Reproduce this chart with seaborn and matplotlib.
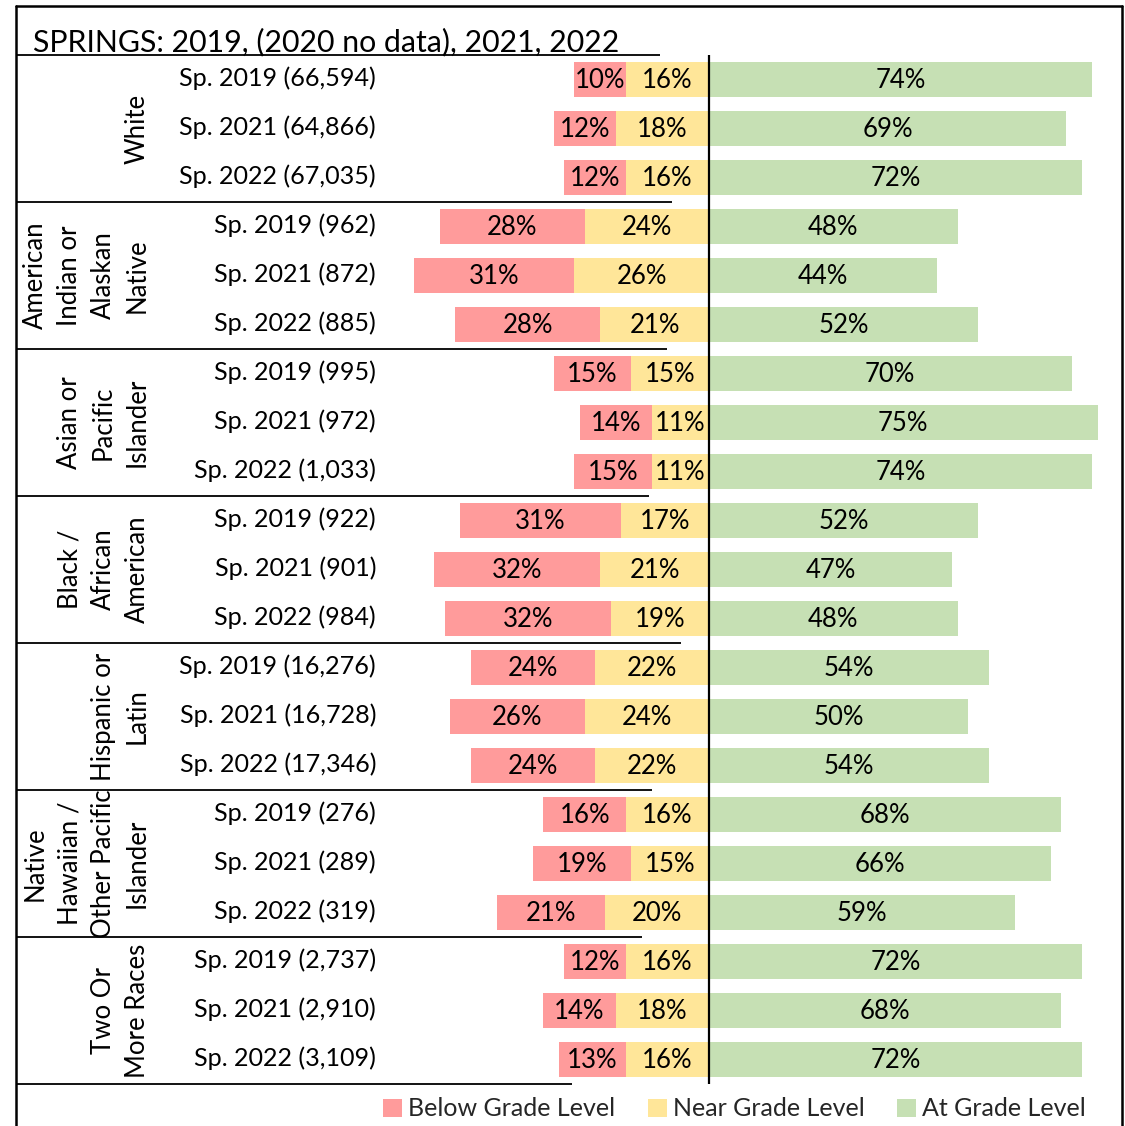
import matplotlib
matplotlib.use("Agg")
import matplotlib.pyplot as plt
from matplotlib.lines import Line2D
from matplotlib.patches import Patch
import seaborn as sns
import pandas as pd

# ---------------- data ----------------
groups = [
    "White",
    "American\nIndian or\nAlaskan\nNative",
    "Asian or\nPacific\nIslander",
    "Black /\nAfrican\nAmerican",
    "Hispanic or\nLatin",
    "Native\nHawaiian /\nOther Pacific\nIslander",
    "Two Or\nMore Races",
]
row_labels = [
    "Sp. 2019 (66,594)", "Sp. 2021 (64,866)", "Sp. 2022 (67,035)",
    "Sp. 2019 (962)", "Sp. 2021 (872)", "Sp. 2022 (885)",
    "Sp. 2019 (995)", "Sp. 2021 (972)", "Sp. 2022 (1,033)",
    "Sp. 2019 (922)", "Sp. 2021 (901)", "Sp. 2022 (984)",
    "Sp. 2019 (16,276)", "Sp. 2021 (16,728)", "Sp. 2022 (17,346)",
    "Sp. 2019 (276)", "Sp. 2021 (289)", "Sp. 2022 (319)",
    "Sp. 2019 (2,737)", "Sp. 2021 (2,910)", "Sp. 2022 (3,109)",
]
below = [10, 12, 12, 28, 31, 28, 15, 14, 15, 31, 32, 32, 24, 26, 24, 16, 19, 21, 12, 14, 13]
near = [16, 18, 16, 24, 26, 21, 15, 11, 11, 17, 21, 19, 22, 24, 22, 16, 15, 20, 16, 18, 16]
at = [74, 69, 72, 48, 44, 52, 70, 75, 74, 52, 47, 48, 54, 50, 54, 68, 66, 59, 72, 68, 72]
legend_labels = ["Below Grade Level", "Near Grade Level", "At Grade Level"]
title = "SPRINGS: 2019, (2020 no data), 2021, 2022"

# ---------------- style ----------------
RED = "#FF9B9B"
YEL = "#FFE699"
GRN = "#C6E0B4"
W, H = 1125, 1126
FONT = "Lato"

sns.set_theme(style="white")
plt.rcParams["font.family"] = [FONT, "DejaVu Sans"]

fig = plt.figure(figsize=(W / 100, H / 100), dpi=100)

def fx(px):
    return px / W

def fy(py):
    return 1 - py / H

# axes placement in pixels
AX_L, AX_R, AX_T, AX_B = 16, 1122, 55, 1084
CENTER_PX = 709
PX_PER = 5.18
ax = fig.add_axes([fx(AX_L), fy(AX_B), fx(AX_R - AX_L), (AX_B - AX_T) / H])

def dx(px):
    return (px - CENTER_PX) / PX_PER

df = pd.DataFrame({"row": row_labels, "below": below, "near": near, "at": at})
df["left_total"] = -(df["below"] + df["near"])
df["left_near"] = -df["near"]

common = dict(data=df, y="row", orient="y", order=row_labels, width=0.7,
              saturation=1, errorbar=None, linewidth=0, ax=ax)
sns.barplot(x="left_total", color=RED, **common)
sns.barplot(x="left_near", color=YEL, **common)
sns.barplot(x="at", color=GRN, **common)

n = len(row_labels)
ax.set_xlim(dx(AX_L), dx(AX_R))
ax.set_ylim(n - 0.5, -0.5)
ax.set_xlabel("")
ax.set_ylabel("")
ax.set_xticks([])
ax.set_yticks([])
for s in ax.spines.values():
    s.set_visible(False)

# center line
ax.axvline(0, color="black", lw=1.6, zorder=5)

# percentage labels
PCT_FS = 18.5
for i in range(n):
    b, nr, a = below[i], near[i], at[i]
    ax.text(-(nr + b / 2), i + 0.02, f"{b}%", ha="center", va="center", fontsize=PCT_FS, color="black")
    ax.text(-nr / 2, i + 0.02, f"{nr}%", ha="center", va="center", fontsize=PCT_FS, color="black")
    ax.text(a / 2, i + 0.02, f"{a}%", ha="center", va="center", fontsize=PCT_FS, color="black")

# row labels
for i, lab in enumerate(row_labels):
    ax.text(dx(376), i - 0.02, lab, ha="right", va="center", fontsize=18.1, color="black")

# group labels
for g, name in enumerate(groups):
    yc = g * 3 + 1
    ax.text(dx(150), yc, name, ha="right", va="center", rotation=90,
            multialignment="center", fontsize=18.5, linespacing=1.45, color="black")

# separator lines (title underline + group boundaries)
sep_ext = [660, 672, 667, 649, 681, 652, 642, 572]
for k, ext in enumerate(sep_ext):
    ax.hlines(k * 3 - 0.5, dx(AX_L), dx(ext), color="black", lw=1.3, zorder=4,
              clip_on=False)

# outer border
for (x0, y0, x1, y1) in [(16, 6, 16, 1126), (16, 6, 1122, 6), (1122, 6, 1122, 1126)]:
    fig.add_artist(Line2D([fx(x0), fx(x1)], [fy(y0), fy(y1)], color="black", lw=1.8))

# title
fig.text(fx(33), fy(51), title, ha="left", va="baseline", fontsize=21.8, color="black")

# legend
handles = [Patch(facecolor=c, edgecolor="none") for c in (RED, YEL, GRN)]
fig.legend(handles, legend_labels, loc="center right", bbox_to_anchor=(fx(1086), fy(1109)),
           ncol=3, frameon=False, fontsize=18, handlelength=0.75, handleheight=0.75,
           handletextpad=0.25, columnspacing=1.3, borderaxespad=0, borderpad=0)

fig.savefig("out.png", dpi=100)
